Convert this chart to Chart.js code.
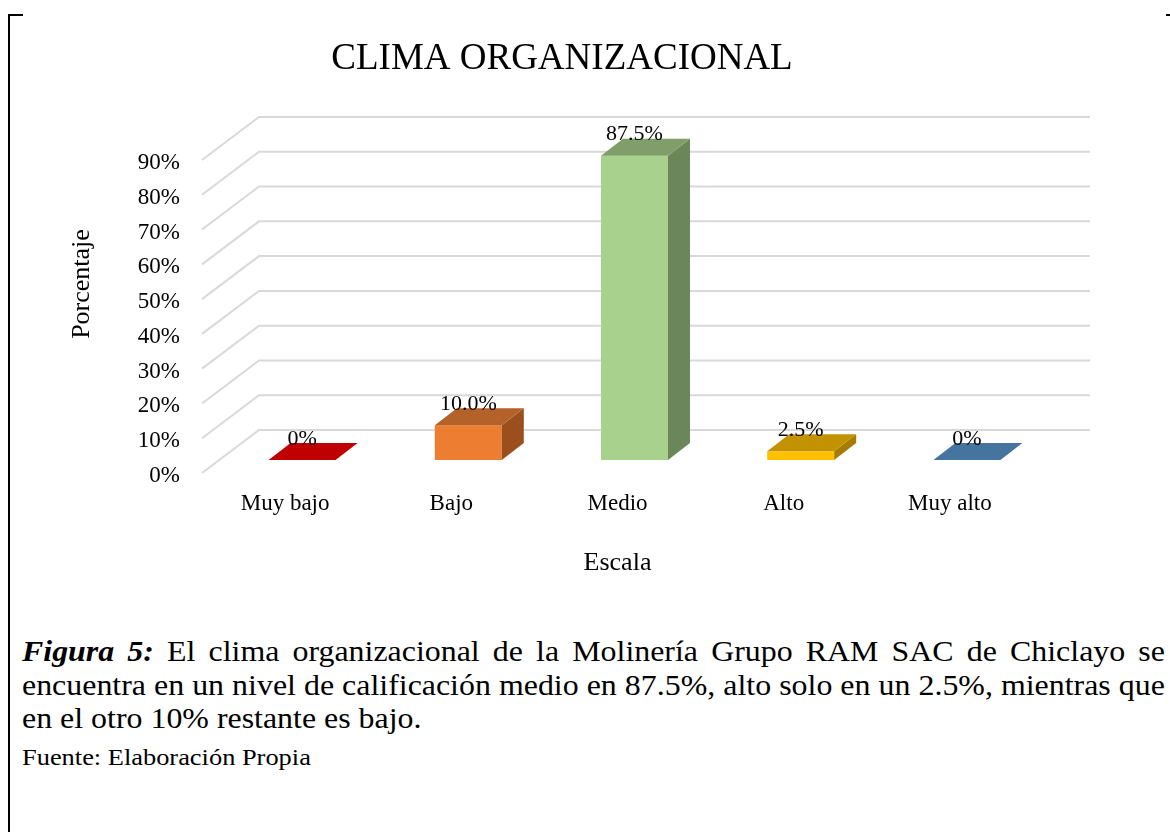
<!DOCTYPE html>
<html lang="es">
<head>
<meta charset="utf-8">
<title>Clima organizacional</title>
<script src="https://cdn.jsdelivr.net/npm/chart.js@4.4.1/dist/chart.umd.min.js"></script>
<style>
  html, body { margin: 0; padding: 0; background: #fff; }
  body { width: 1170px; height: 832px; position: relative; overflow: hidden;
         font-family: "Liberation Serif", "Times New Roman", serif; color: #000; }
  #marco-izq { position: absolute; left: 8px; top: 14px; width: 2px; height: 818px; background: #000; }
  #marco-sup-izq { position: absolute; left: 8px; top: 14px; width: 15px; height: 2px; background: #000; }
  #marco-sup-der { position: absolute; left: 1166px; top: 14px; width: 4px; height: 2px; background: #000; }
  #grafico { position: absolute; left: 0; top: 0; }
  #leyenda { position: absolute; left: 22px; top: 635px; width: 1039px;
             transform: scaleX(1.1); transform-origin: 0 0; }
  .linea { font-size: 29px; line-height: 33.5px; white-space: nowrap; }
  .just { text-align: justify; text-align-last: justify; }
  .fuente { font-size: 24px; line-height: 30px; margin-top: 6px; white-space: nowrap; }
</style>
</head>
<body>
<div id="marco-izq"></div>
<div id="marco-sup-izq"></div>
<div id="marco-sup-der"></div>
<canvas id="grafico" width="1170" height="600"></canvas>
<div id="leyenda">
  <div class="linea just"><b><i>Figura 5:</i></b> El clima organizacional de la Molinería Grupo RAM SAC de Chiclayo se</div>
  <div class="linea just">encuentra en un nivel de calificación medio en 87.5%, alto solo en un 2.5%, mientras que</div>
  <div class="linea">en el otro 10% restante es bajo.</div>
  <div class="fuente">Fuente: Elaboración Propia</div>
</div>
<script>
// datos del grafico
const categorias = ['Muy bajo', 'Bajo', 'Medio', 'Alto', 'Muy alto'];
const porcentajes = [0, 10.0, 87.5, 2.5, 0];
const etiquetas = ['0%', '10.0%', '87.5%', '2.5%', '0%'];
const ticksY = [0, 10, 20, 30, 40, 50, 60, 70, 80, 90];

// colores de cada cara de las barras
const coloresFrente = ['#FF0000', '#ED7D31', '#A9D18E', '#FFC000', '#5B9BD5'];
const coloresArriba = ['#C00000', '#B4612A', '#7F9E6A', '#C29200', '#45759F'];
const coloresLado = ['#A00000', '#9A4F1D', '#6B8759', '#A67C00', '#3A6289'];

const fuente = '"Liberation Serif", "Times New Roman", serif';

// desplazamientos del efecto 3D (piso, cara frontal de la barra, profundidad)
const piso = { dx: 57, dy: -43 };
const frente = { dx: 17, dy: -13 };
const fondo = { dx: 22, dy: -17 };

function poligono(ctx, pts, color) {
  ctx.beginPath();
  ctx.moveTo(pts[0][0], pts[0][1]);
  for (let i = 1; i < pts.length; i++) ctx.lineTo(pts[i][0], pts[i][1]);
  ctx.closePath();
  ctx.fillStyle = color;
  ctx.fill();
}

const barras3d = {
  id: 'barras3d',
  beforeDatasetsDraw(chart) {
    const { ctx, chartArea, scales: { y } } = chart;
    ctx.save();
    ctx.strokeStyle = '#D9D9D9';
    ctx.lineWidth = 2;
    y.ticks.forEach(t => {
      const py = y.getPixelForValue(t.value);
      ctx.beginPath();
      ctx.moveTo(chartArea.left, py);
      ctx.lineTo(chartArea.left + piso.dx, py + piso.dy);
      ctx.lineTo(chartArea.right + piso.dx, py + piso.dy);
      ctx.stroke();
    });
    ctx.restore();
  },
  beforeDatasetDraw(chart, args) {
    const ctx = chart.ctx;
    ctx.save();
    args.meta.data.forEach((barra, i) => {
      const w = barra.width;
      const x0 = barra.x - w / 2 + frente.dx;
      const x1 = barra.x + w / 2 + frente.dx;
      const yt = barra.y + frente.dy;
      const yb = barra.base + frente.dy;
      ctx.fillStyle = coloresFrente[i];
      ctx.fillRect(x0, yt, w, yb - yt);
      poligono(ctx, [[x1, yt], [x1 + fondo.dx, yt + fondo.dy], [x1 + fondo.dx, yb + fondo.dy], [x1, yb]], coloresLado[i]);
      poligono(ctx, [[x0, yt], [x0 + fondo.dx, yt + fondo.dy], [x1 + fondo.dx, yt + fondo.dy], [x1, yt]], coloresArriba[i]);
    });
    ctx.restore();
    return false;
  },
  afterDatasetsDraw(chart) {
    const ctx = chart.ctx;
    const meta = chart.getDatasetMeta(0);
    ctx.save();
    ctx.fillStyle = '#000';
    ctx.font = '22px ' + fuente;
    ctx.textAlign = 'center';
    ctx.textBaseline = 'alphabetic';
    meta.data.forEach((barra, i) => {
      ctx.fillText(etiquetas[i], barra.x + frente.dx, barra.y + frente.dy + fondo.dy + 1.5);
    });
    ctx.restore();
  }
};

const ctx = document.getElementById('grafico').getContext('2d');

const grafico = new Chart(ctx, {
  type: 'bar',
  data: {
    labels: categorias,
    datasets: [{
      data: porcentajes,
      backgroundColor: coloresFrente,
      barPercentage: 0.403,
      categoryPercentage: 1
    }]
  },
  options: {
    responsive: false,
    animation: false,
    layout: { padding: { left: 0, right: 46, top: 0, bottom: 22 } },
    plugins: {
      legend: { display: false },
      tooltip: { enabled: false },
      title: {
        display: true,
        text: 'CLIMA ORGANIZACIONAL',
        color: '#000',
        font: { family: fuente, size: 37, weight: 'normal' },
        padding: { top: 37, bottom: 78.6 }
      }
    },
    scales: {
      x: {
        afterFit: s => { s.height = 105; },
        grid: { display: false, drawTicks: false },
        border: { display: false },
        ticks: { color: '#000', font: { family: fuente, size: 23 }, padding: 17 },
        title: {
          display: true, text: 'Escala', color: '#000',
          font: { family: fuente, size: 26 },
          padding: { top: 31, bottom: -1 }
        }
      },
      y: {
        min: 0,
        max: 90,
        afterFit: s => { s.width = 202; },
        afterBuildTicks: s => { s.ticks = ticksY.map(v => ({ value: v })); },
        grid: { display: false, drawTicks: false },
        border: { display: false },
        ticks: {
          color: '#000', font: { family: fuente, size: 23 }, padding: 22,
          labelOffset: 3,
          callback: v => v + '%'
        },
        title: {
          display: true, text: '\u00A0'.repeat(10) + 'Porcentaje', color: '#000',
          font: { family: fuente, size: 26 },
          padding: { top: 67, bottom: 41 }
        }
      },
      derecha: {
        type: 'linear',
        position: 'right',
        afterFit: s => { s.width = 91; },
        grid: { display: false, drawTicks: false },
        border: { display: false },
        ticks: { display: false }
      }
    }
  },
  plugins: [barras3d]
});
</script>
</body>
</html>
